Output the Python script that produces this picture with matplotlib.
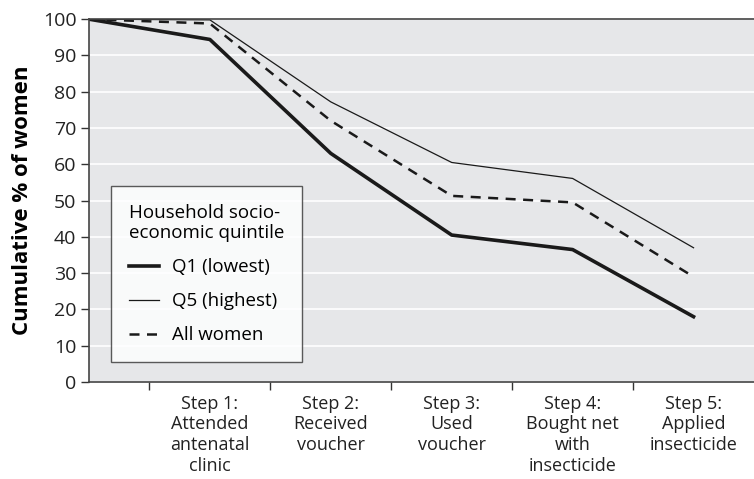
import numpy as np
import matplotlib.pyplot as plt
from matplotlib.ticker import FixedLocator

plt.rcParams['font.family'] = ['Open Sans', 'DejaVu Sans']

# Data
steps = ["", "Step 1:\nAttended\nantenatal\nclinic", "Step 2:\nReceived\nvoucher",
         "Step 3:\nUsed\nvoucher", "Step 4:\nBought net\nwith\ninsecticide",
         "Step 5:\nApplied\ninsecticide"]
q1 = [100, 94.4, 63, 40.5, 36.5, 18]
q5 = [100, 99.8, 77.2, 60.5, 56.1, 37]
all_women = [100, 98.8, 72, 51.3, 49.5, 29]

fig = plt.figure(figsize=(7.54, 4.79), dpi=100)
ax = fig.add_axes([0.118, 0.2025, 0.882, 0.7575])
ax.set_facecolor('#e6e7e9')

x = np.arange(len(steps))
ax.plot(x, q1, color='#1a1a1a', lw=2.6, label='Q1 (lowest)')
ax.plot(x, q5, color='#1a1a1a', lw=0.9, label='Q5 (highest)')
ax.plot(x, all_women, color='#1a1a1a', lw=1.8, dashes=(4, 3), label='All women')

ax.set_xlim(0, 5.5)
ax.set_ylim(0, 100)
ax.set_yticks(np.arange(0, 101, 10))
ax.yaxis.grid(True, color='white', lw=1.2)
ax.set_axisbelow(True)

# boundaries between categories get tick marks, labels sit at centers
ax.xaxis.set_major_locator(FixedLocator(x[:-1] + 0.5))
ax.xaxis.set_major_formatter(plt.NullFormatter())
ax.xaxis.set_minor_locator(FixedLocator(x))
ax.set_xticklabels(steps, minor=True, fontsize=13, color='#222222',
                   linespacing=1.2)
ax.tick_params(axis='x', which='minor', length=0, pad=9)
ax.tick_params(axis='x', which='major', length=6, width=1, color='#333333')
ax.tick_params(axis='y', length=6, width=1, color='#333333', labelsize=14,
               labelcolor='#222222', pad=3)

for side in ['left', 'bottom', 'top']:
    ax.spines[side].set_color('#444444')
    ax.spines[side].set_linewidth(1.2)
ax.spines['right'].set_visible(False)

ax.set_ylabel('Cumulative % of women', fontsize=16, fontweight='bold', labelpad=7)

leg = ax.legend(title='Household socio-\neconomic quintile', loc='lower left',
                bbox_to_anchor=(0.033, 0.055), borderaxespad=0,
                fontsize=13.5, title_fontsize=13.5, frameon=True, fancybox=False,
                handlelength=1.6, handletextpad=0.7, borderpad=0.95,
                labelspacing=0.85, edgecolor='#333333')
leg.get_frame().set_linewidth(1.0)
leg.get_frame().set_facecolor('white')
leg._legend_box.align = 'left'

fig.savefig('out.png', dpi=100)
